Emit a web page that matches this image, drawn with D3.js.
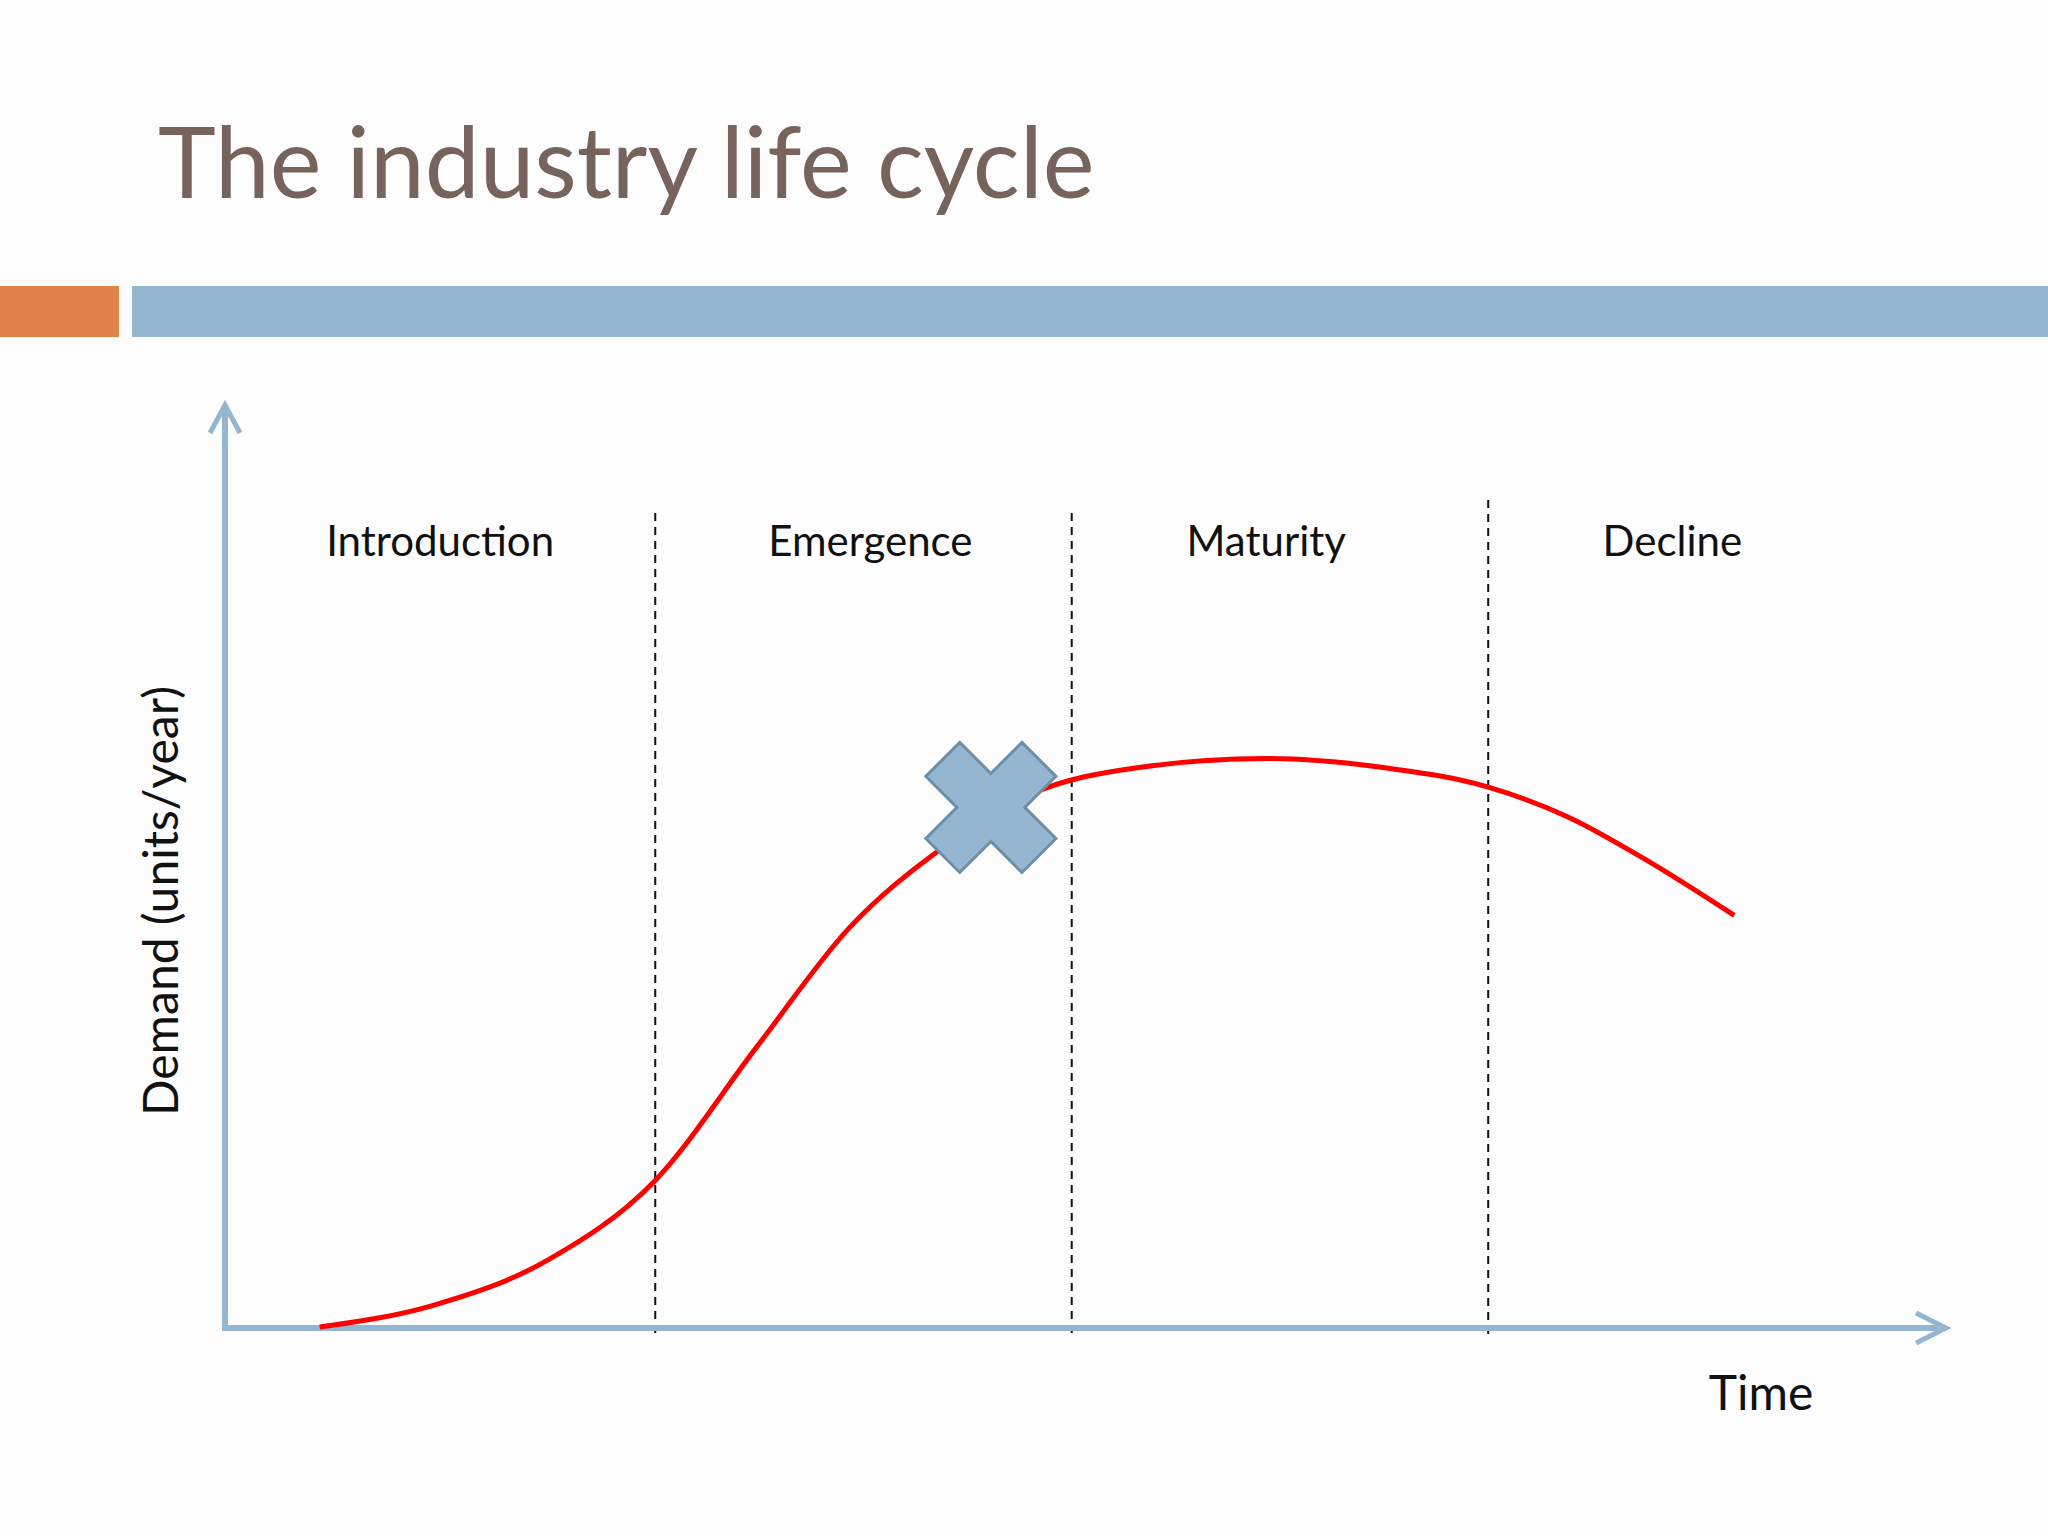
<!DOCTYPE html>
<html><head><meta charset="utf-8">
<script src="https://cdn.jsdelivr.net/npm/d3@7"></script>
<style>body{margin:0;background:#fdfdfd}</style></head>
<body><svg id="c" width="2048" height="1536"></svg>
<script>
const title = "The industry life cycle";
const stages = ["Introduction","Emergence","Maturity","Decline"];
const stageBounds = [2.5, 4.92, 7.34];
const stageCenters = [1.25, 3.75, 6.05, 8.41];
const time =   [0.55,1.2,1.88,2.49,3.1,3.63,4.16,4.69,5.3,6.05,6.74,7.34,7.8,8.25,8.77];
const demand = [0.1,2.4,7.4,15.8,30.7,43.4,51.9,57.9,60.7,61.7,60.7,58.6,55.4,50.8,44.7];
const marker = {t:4.45, d:56.4};
const xLabel = "Time", yLabel = "Demand (units/year)";

const svg = d3.select("#c");
const font = "Lato, 'Noto Sans', sans-serif";
svg.append("rect").attr("width",2048).attr("height",1536).attr("fill","#fdfdfd");
svg.append("text").attr("x",158).attr("y",198).attr("font-size",98).attr("font-family",font)
  .attr("fill","#76635b").text(title);
svg.append("rect").attr("x",0).attr("y",286).attr("width",119).attr("height",51).attr("fill","#e0834a");
svg.append("rect").attr("x",132).attr("y",286).attr("width",1916).attr("height",51).attr("fill","#94b6d0");

const x = d3.scaleLinear().domain([0,10]).range([225,1946]);
const y = d3.scaleLinear().domain([0,100]).range([1328,405]);
const axc = "#94b6d0";
// dashed stage boundaries
svg.selectAll(".dl").data(stageBounds).enter().append("line")
  .attr("x1",d=>x(d)).attr("x2",d=>x(d)).attr("y1",(d,i)=>i==2?500:513).attr("y2",1335)
  .attr("stroke","#111").attr("stroke-width",2).attr("stroke-dasharray","8,6");
// axes
svg.append("line").attr("x1",x(0)).attr("x2",x(0)).attr("y1",y(0)+3).attr("y2",y(100)).attr("stroke",axc).attr("stroke-width",6);
svg.append("line").attr("x1",x(0)-3).attr("x2",x(10)).attr("y1",y(0)).attr("y2",y(0)).attr("stroke",axc).attr("stroke-width",6);
svg.append("path").attr("d",`M${x(0)-15},${y(100)+28} L${x(0)},${y(100)} L${x(0)+15},${y(100)+28}`)
  .attr("fill","none").attr("stroke",axc).attr("stroke-width",5);
svg.append("path").attr("d",`M${x(10)-30},${y(0)-15} L${x(10)},${y(0)} L${x(10)-30},${y(0)+15}`)
  .attr("fill","none").attr("stroke",axc).attr("stroke-width",5);
// curve
const line = d3.line().x(d=>x(d[0])).y(d=>y(d[1])).curve(d3.curveMonotoneX);
svg.append("path").attr("d",line(time.map((t,i)=>[t,demand[i]])))
  .attr("fill","none").attr("stroke","#ff0000").attr("stroke-width",5);
// marker
const a=68,b=24;
const pts=[[b,a],[b,b],[a,b],[a,-b],[b,-b],[b,-a],[-b,-a],[-b,-b],[-a,-b],[-a,b],[-b,b],[-b,a]];
svg.append("path").attr("d","M"+pts.map(p=>p.join(",")).join("L")+"Z")
  .attr("transform",`translate(${x(marker.t)},${y(marker.d)}) rotate(45)`)
  .attr("fill","#94b6d0").attr("stroke","#6d8fa8").attr("stroke-width",3);
// labels
svg.selectAll(".sl").data(stages).enter().append("text")
  .attr("x",(d,i)=>x(stageCenters[i])).attr("y",556).attr("text-anchor","middle")
  .attr("font-size",42).attr("font-family",font).attr("fill","#111").text(d=>d);
svg.append("text").attr("x",1761).attr("y",1410).attr("text-anchor","middle")
  .attr("font-size",48).attr("font-family",font).attr("fill","#111").text(xLabel);
svg.append("text").attr("transform","translate(178,901) rotate(-90)").attr("text-anchor","middle")
  .attr("font-size",48).attr("font-family",font).attr("fill","#111").text(yLabel);
</script></body></html>
